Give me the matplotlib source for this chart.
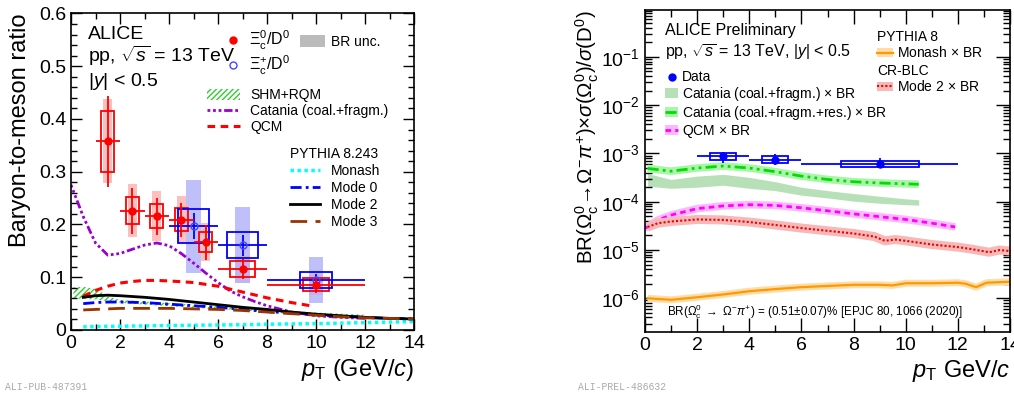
import numpy as np
import matplotlib
matplotlib.use('Agg')
import matplotlib.pyplot as plt
from matplotlib.ticker import MultipleLocator, FixedLocator, NullFormatter, FuncFormatter, LogFormatterSciNotation
from matplotlib.lines import Line2D
from matplotlib.patches import Patch

plt.rcParams['font.family'] = ['Liberation Sans', 'DejaVu Sans']
plt.rcParams['mathtext.fontset'] = 'custom'
plt.rcParams['mathtext.rm'] = 'Liberation Sans'
plt.rcParams['mathtext.it'] = 'Liberation Sans:italic'
plt.rcParams['mathtext.bf'] = 'Liberation Sans:bold'
plt.rcParams['mathtext.sf'] = 'Liberation Sans'
plt.rcParams['hatch.linewidth'] = 1.0

# ---------------- Left panel data ----------------
xi0_x = np.array([1.5, 2.5, 3.5, 4.5, 5.5, 7.0, 10.0])
xi0_xlo = np.array([1, 2, 3, 4, 5, 6, 8])
xi0_xhi = np.array([2, 3, 4, 5, 6, 8, 12])
xi0_y = np.array([0.358, 0.226, 0.216, 0.209, 0.166, 0.115, 0.086])
xi0_stat = np.array([0.086, 0.044, 0.035, 0.032, 0.033, 0.019, 0.016])
xi0_syst = np.array([0.058, 0.026, 0.023, 0.022, 0.019, 0.015, 0.013])
xi0_br = np.array([0.079, 0.050, 0.048, 0.045, 0.036, 0.025, 0.019])

xip_x = np.array([5.0, 7.0, 10.0])
xip_xlo = np.array([4, 6, 8])
xip_xhi = np.array([6, 8, 12])
xip_y = np.array([0.197, 0.161, 0.095])
xip_stat = np.array([0.025, 0.020, 0.012])
xip_syst = np.array([0.033, 0.024, 0.015])
xip_br = np.array([0.088, 0.072, 0.043])

shm_x = [0.1, 0.5, 1.0, 1.3, 1.6, 2, 3, 4, 5, 6, 7, 8, 9, 10, 11, 12]
shm_lo = [0.060, 0.059, 0.058, 0.056, 0.054, 0.052, 0.048, 0.045, 0.042, 0.040, 0.037, 0.034, 0.031, 0.029, 0.027, 0.025]
shm_hi = [0.081, 0.082, 0.078, 0.070, 0.062, 0.057, 0.054, 0.051, 0.048, 0.045, 0.042, 0.039, 0.036, 0.033, 0.031, 0.029]

catania_x = [0, 0.5, 1, 1.5, 2, 2.5, 3, 3.5, 4, 4.5, 5, 5.5, 6, 6.5, 7, 7.5, 8, 9, 10, 11, 12]
catania_y = [0.275, 0.215, 0.165, 0.142, 0.145, 0.153, 0.161, 0.165, 0.160, 0.145, 0.127, 0.108,
             0.090, 0.074, 0.063, 0.054, 0.046, 0.034, 0.027, 0.024, 0.022]

qcm_x = [0.5, 1, 1.5, 2, 2.5, 3, 3.5, 4, 5, 6, 7, 8, 9, 9.9]
qcm_y = [0.064, 0.075, 0.083, 0.089, 0.092, 0.094, 0.094, 0.093, 0.090, 0.083, 0.072, 0.061, 0.052, 0.045]

py_x = [0.5, 1, 1.5, 2, 3, 4, 5, 6, 7, 8, 9, 10, 11, 12, 13, 14]
monash_y = [0.006, 0.0065, 0.007, 0.0072, 0.0078, 0.0085, 0.009, 0.0095, 0.010, 0.011, 0.0115, 0.012, 0.013, 0.014, 0.015, 0.016]
mode0_y = [0.050, 0.052, 0.053, 0.053, 0.052, 0.049, 0.046, 0.043, 0.039, 0.035, 0.032, 0.029, 0.026, 0.024, 0.022, 0.021]
mode2_y = [0.062, 0.065, 0.066, 0.065, 0.062, 0.058, 0.053, 0.048, 0.043, 0.039, 0.034, 0.030, 0.027, 0.024, 0.022, 0.021]
mode3_y = [0.038, 0.039, 0.040, 0.041, 0.041, 0.041, 0.040, 0.039, 0.037, 0.034, 0.031, 0.028, 0.025, 0.023, 0.022, 0.021]

left_yticks = [0, 0.1, 0.2, 0.3, 0.4, 0.5, 0.6]
left_xticks = [0, 2, 4, 6, 8, 10, 12, 14]

# ---------------- Right panel data ----------------
om_x = np.array([3.0, 5.0, 9.0])
om_xlo = np.array([2, 4, 6])
om_xhi = np.array([4, 6, 12])
om_y = np.array([8.8e-4, 7.5e-4, 6.2e-4])
om_stat_lo = np.array([6.5e-4, 5.7e-4, 4.9e-4])
om_stat_hi = np.array([1.08e-3, 9.7e-4, 7.9e-4])
om_syst_lo = np.array([7.3e-4, 6.5e-4, 5.3e-4])
om_syst_hi = np.array([1.0e-3, 8.9e-4, 7.0e-4])

cat_x = [0.1, 1, 2, 3, 4, 5, 6, 7, 8, 9, 10, 10.5]
cat_hi = [3.85e-4, 2.9e-4, 3.4e-4, 3.7e-4, 3.2e-4, 2.6e-4, 2.0e-4, 1.7e-4, 1.48e-4, 1.3e-4, 1.15e-4, 1.1e-4]
cat_lo = [2.1e-4, 1.9e-4, 2.0e-4, 2.2e-4, 1.9e-4, 1.7e-4, 1.37e-4, 1.2e-4, 1.03e-4, 9.3e-5, 8.7e-5, 8.5e-5]

catres_x = [0.1, 1, 2, 3, 4, 5, 6, 7, 8, 9, 10, 10.5]
catres_y = [4.9e-4, 4.3e-4, 5.0e-4, 5.5e-4, 5.0e-4, 4.2e-4, 3.4e-4, 2.9e-4, 2.6e-4, 2.45e-4, 2.35e-4, 2.3e-4]

qcmbr_x = [0, 0.5, 1, 2, 3, 4, 5, 6, 7, 8, 9, 10, 11, 11.9]
qcmbr_y = [2.8e-5, 4.2e-5, 5.3e-5, 7.2e-5, 8.2e-5, 8.7e-5, 8.4e-5, 7.5e-5, 6.5e-5, 5.6e-5, 4.9e-5, 4.3e-5, 3.6e-5, 3.0e-5]

m2br_x = [0.1, 0.5, 1, 2, 3, 4, 5, 6, 7, 8, 8.8, 9.2, 9.6, 10, 11, 12, 12.5, 13.2, 13.6, 14]
m2br_y = [3.0e-5, 3.6e-5, 3.9e-5, 4.3e-5, 4.2e-5, 3.8e-5, 3.3e-5, 2.85e-5, 2.5e-5, 2.2e-5, 1.9e-5,
          1.55e-5, 1.65e-5, 1.55e-5, 1.3e-5, 1.15e-5, 1.05e-5, 9.0e-6, 1.0e-5, 9.5e-6]

mon_x = [0.1, 1, 2, 3, 4, 5, 6, 7, 8, 9, 9.5, 10, 11, 12, 12.3, 12.7, 13.1, 14]
mon_y = [1.0e-6, 0.93e-6, 1.05e-6, 1.2e-6, 1.4e-6, 1.55e-6, 1.7e-6, 1.8e-6, 1.9e-6, 1.9e-6, 1.85e-6,
         2.05e-6, 2.05e-6, 2.1e-6, 2.0e-6, 1.7e-6, 2.1e-6, 2.2e-6]

right_xticks = [0, 2, 4, 6, 8, 10, 12, 14]
right_yticks = [1e-6, 1e-5, 1e-4, 1e-3, 1e-2, 1e-1]
right_ylim = (2.03e-7, 0.94)

# ---------------- styles ----------------
RED = '#ff0000'
BLUE = '#0000ff'
RED_BAND = '#ffb4b4'
BLUE_BAND = '#b4b4fa'
XI0_BOX_HW = np.array([0.26, 0.26, 0.26, 0.26, 0.26, 0.5, 0.52])
XI0_BAND_HW = np.array([0.18, 0.18, 0.18, 0.18, 0.18, 0.3, 0.3])
XIP_BOX_HW = 0.65
XIP_BAND_HW = 0.3
OM_BOX_HW = np.array([0.5, 0.5, 1.5])
CAT_LS = (0, (1, 1, 1, 1, 1, 1, 3, 1))

fig = plt.figure(figsize=(10.14, 3.99), dpi=100)
W, H = 1014.0, 399.0
ax1 = fig.add_axes([71 / W, 1 - 330 / H, 343 / W, 316.5 / H])
ax2 = fig.add_axes([645 / W, 1 - 331.7 / H, 365 / W, 321.7 / H])

# ================= Left panel =================
ax = ax1
ax.fill_between(shm_x, shm_lo, shm_hi, facecolor='none', edgecolor='#33cc33', hatch='//////', linewidth=0)
ax.plot(catania_x, catania_y, color='#9900cc', lw=2.0, ls=CAT_LS)
ax.plot(qcm_x, qcm_y, color=RED, lw=2.2, ls=(0, (2.5, 1.8)))
ax.plot(py_x, monash_y, color='#00ffff', lw=2.5, ls=(0, (1, 1)))
ax.plot(py_x, mode0_y, color=BLUE, lw=2.0, ls=(0, (4, 1.5, 1, 1.5)))
ax.plot(py_x, mode2_y, color='black', lw=2.0)
ax.plot(py_x, mode3_y, color='#993300', lw=2.0, ls=(0, (6, 3)))

# BR uncertainty bands
ax.bar(xi0_x, 2 * xi0_br, bottom=xi0_y - xi0_br, width=2 * XI0_BAND_HW, color=RED_BAND, alpha=0.85, lw=0)
ax.bar(xip_x, 2 * xip_br, bottom=xip_y - xip_br, width=2 * XIP_BAND_HW, color=BLUE_BAND, alpha=0.85, lw=0)
# systematic boxes
ax.bar(xi0_x, 2 * xi0_syst, bottom=xi0_y - xi0_syst, width=2 * XI0_BOX_HW, fill=False, edgecolor=RED, lw=1.3)
ax.bar(xip_x, 2 * xip_syst, bottom=xip_y - xip_syst, width=2 * XIP_BOX_HW, fill=False, edgecolor=BLUE, lw=1.3)
# stat errors
ax.errorbar(xip_x, xip_y, xerr=[xip_x - xip_xlo, xip_xhi - xip_x], yerr=xip_stat, fmt='o', ms=5,
            mfc='none', mec='#4444ff', color=BLUE, elinewidth=1.3, capsize=0)
ax.errorbar(xi0_x, xi0_y, xerr=[xi0_x - xi0_xlo, xi0_xhi - xi0_x], yerr=xi0_stat, fmt='o', ms=5,
            color=RED, elinewidth=1.3, capsize=0)

ax.set_xlim(0, 14)
ax.set_ylim(0, 0.6)
ax.set_xticks(left_xticks)
ax.set_yticks(left_yticks)
ax.yaxis.set_major_formatter(FuncFormatter(lambda v, p: '%g' % v))
ax.xaxis.set_minor_locator(MultipleLocator(1))
ax.yaxis.set_minor_locator(MultipleLocator(0.02))
ax.tick_params(which='both', direction='in', top=True, right=True, labelsize=14, width=1.0)
ax.tick_params(which='major', length=8)
ax.tick_params(which='minor', length=4)
for s in ax.spines.values():
    s.set_linewidth(1.2)
ax.set_ylabel('Baryon-to-meson ratio', fontsize=17, loc='top', labelpad=6)
ax.set_xlabel(r'$p_{\rm T}$ (GeV/$c$)', fontsize=17, loc='right', labelpad=4)

ax.text(0.05, 0.918, 'ALICE', transform=ax.transAxes, fontsize=14)
ax.text(0.05, 0.848, r'pp, $\sqrt{s}$ = 13 TeV', transform=ax.transAxes, fontsize=14)
ax.text(0.05, 0.772, r'|$y$| < 0.5', transform=ax.transAxes, fontsize=14)

legA = ax.legend([Line2D([], [], marker='o', color=RED, ls='none', ms=5),
                  Line2D([], [], marker='o', mfc='none', mec='#4444ff', ls='none', ms=5)],
                 [r'$\Xi_{\rm c}^{0}$/D$^{0}$', r'$\Xi_{\rm c}^{+}$/D$^{0}$'],
                 loc='upper left', bbox_to_anchor=(0.45, 0.952), frameon=False, fontsize=11.5,
                 handlelength=0.9, handletextpad=0.55, labelspacing=0.1, borderpad=0, borderaxespad=0)
ax.add_artist(legA)
legB = ax.legend([Patch(facecolor='#bbbbbb', lw=0)], ['BR unc.'], loc='upper left',
                 bbox_to_anchor=(0.668, 0.932), frameon=False, fontsize=10, handlelength=1.8,
                 handleheight=0.93, handletextpad=0.43, borderpad=0, borderaxespad=0)
ax.add_artist(legB)
legC = ax.legend([Patch(facecolor='none', edgecolor='#33cc33', hatch='//////', lw=0),
                  Line2D([], [], color='#9900cc', lw=2.0, ls=CAT_LS),
                  Line2D([], [], color=RED, lw=2.2, ls=(0, (2.5, 1.8)))],
                 ['SHM+RQM', 'Catania (coal.+fragm.)', 'QCM'], loc='upper left',
                 bbox_to_anchor=(0.3965, 0.764), frameon=False, fontsize=10, handlelength=2.37,
                 handleheight=0.8, handletextpad=0.72, labelspacing=0.13, borderpad=0, borderaxespad=0)
ax.add_artist(legC)
legD = ax.legend([Line2D([], [], color='#00ffff', lw=2.5, ls=(0, (1, 1))),
                  Line2D([], [], color=BLUE, lw=2.0, ls=(0, (4, 1.5, 1, 1.5))),
                  Line2D([], [], color='black', lw=2.0),
                  Line2D([], [], color='#993300', lw=2.0, ls=(0, (6, 3)))],
                 ['Monash', 'Mode 0', 'Mode 2', 'Mode 3'], title='PYTHIA 8.243', title_fontsize=10,
                 alignment='left', loc='upper left', bbox_to_anchor=(0.638, 0.578), frameon=False,
                 fontsize=10, handlelength=2.16, handletextpad=0.8, labelspacing=0.22, borderpad=0,
                 borderaxespad=0)

# ================= Right panel =================
ax = ax2
ax.set_yscale('log')
ax.fill_between(cat_x, cat_lo, cat_hi, color='#b8e0b8', lw=0)
ax.plot(catres_x, catres_y, color='#aaf5aa', lw=5.5, solid_capstyle='butt')
ax.plot(catres_x, catres_y, color='#00dd00', lw=2.0, ls=(0, (4, 1.5, 1, 1.5, 1, 1.5)))
ax.plot(qcmbr_x, qcmbr_y, color='#ffb8ff', lw=5.5, solid_capstyle='butt')
ax.plot(qcmbr_x, qcmbr_y, color='#ff00ff', lw=2.0, ls=(0, (2, 1.5)))
ax.plot(m2br_x, m2br_y, color='#f7b8b8', lw=6.5, solid_capstyle='butt')
ax.plot(m2br_x, m2br_y, color='#ee0000', lw=1.5, ls=(0, (1, 1)))
ax.plot(mon_x, mon_y, color='#ffdca8', lw=5, solid_capstyle='butt')
ax.plot(mon_x, mon_y, color='#ff9900', lw=1.6)

ax.bar(om_x, om_syst_hi - om_syst_lo, bottom=om_syst_lo, width=2 * OM_BOX_HW, fill=False,
       edgecolor=BLUE, lw=1.3)
ax.errorbar(om_x, om_y, xerr=[om_x - om_xlo, om_xhi - om_x], yerr=[om_y - om_stat_lo, om_stat_hi - om_y],
            fmt='o', ms=5, color=BLUE, elinewidth=1.3, capsize=0)

ax.set_xlim(0, 14)
ax.set_ylim(*right_ylim)
ax.set_xticks(right_xticks)
ax.xaxis.set_minor_locator(MultipleLocator(1))
ax.yaxis.set_major_locator(FixedLocator(right_yticks))
ax.yaxis.set_major_formatter(LogFormatterSciNotation())
minor_y = [k * 10.0 ** e for e in range(-7, 0) for k in range(2, 10)
           if right_ylim[0] <= k * 10.0 ** e <= right_ylim[1]]
ax.yaxis.set_minor_locator(FixedLocator(minor_y))
ax.yaxis.set_minor_formatter(NullFormatter())
ax.tick_params(which='both', direction='in', top=True, right=True, labelsize=14, width=1.0)
ax.tick_params(which='major', length=10)
ax.tick_params(which='minor', length=5)
for s in ax.spines.values():
    s.set_linewidth(1.2)
ax.set_ylabel(r'BR($\Omega_{\rm c}^{0}\!\rightarrow\!\Omega^{-}\pi^{+}$)$\times\sigma(\Omega_{\rm c}^{0})/\sigma(\mathrm{D}^{0})$',
              fontsize=14.8, loc='top', labelpad=0)
ax.set_xlabel(r'$p_{\rm T}$ GeV/$c$', fontsize=17, loc='right', labelpad=3)

ax.text(0.055, 0.922, 'ALICE Preliminary', transform=ax.transAxes, fontsize=11.5)
ax.text(0.055, 0.854, r'pp, $\sqrt{s}$ = 13 TeV, |$y$| < 0.5', transform=ax.transAxes, fontsize=11.5)
ax.text(0.06, 0.062, r'BR($\Omega_{\rm c}^{0}$ $\rightarrow$ $\Omega^{-}\pi^{+}$) = (0.51$\pm$0.07)% [EPJC 80, 1066 (2020)]',
        transform=ax.transAxes, fontsize=8.4, va='center')

legR1 = ax.legend([Line2D([], [], marker='o', color=BLUE, ls='none', ms=5),
                   Patch(facecolor='#b8e0b8', lw=0),
                   (Patch(facecolor='#aaf5aa', lw=0), Line2D([], [], color='#00dd00', lw=2.0, ls=(0, (4, 1.5, 1, 1.5, 1, 1.5)))),
                   (Patch(facecolor='#ffb8ff', lw=0), Line2D([], [], color='#ff00ff', lw=2.0, ls=(0, (2, 1.5))))],
                  ['Data', r'Catania (coal.+fragm.) $\times$ BR', r'Catania (coal.+fragm.+res.) $\times$ BR',
                   r'QCM $\times$ BR'],
                  loc='upper left', bbox_to_anchor=(0.0548, 0.812), frameon=False, fontsize=10,
                  handlelength=0.94, handleheight=0.72, handletextpad=0.3, labelspacing=0.05,
                  borderpad=0, borderaxespad=0)
ax.add_artist(legR1)
legR2 = ax.legend([(Patch(facecolor='#ffdca8', lw=0), Line2D([], [], color='#ff9900', lw=1.6))],
                  [r'Monash $\times$ BR'], title='PYTHIA 8', title_fontsize=10, alignment='left',
                  loc='upper left', bbox_to_anchor=(0.636, 0.938), frameon=False, fontsize=10,
                  handlelength=1.15, handleheight=0.6, handletextpad=0.3, labelspacing=0.1,
                  borderpad=0, borderaxespad=0)
ax.add_artist(legR2)
legR3 = ax.legend([(Patch(facecolor='#f7b8b8', lw=0), Line2D([], [], color='#ee0000', lw=1.5, ls=(0, (1, 1))))],
                  [r'Mode 2 $\times$ BR'], title='CR-BLC', title_fontsize=10, alignment='left',
                  loc='upper left', bbox_to_anchor=(0.636, 0.833), frameon=False, fontsize=10,
                  handlelength=1.15, handleheight=0.6, handletextpad=0.3, labelspacing=0.1,
                  borderpad=0, borderaxespad=0)

fig.text(5 / W, 1 - 387 / H, 'ALI-PUB-487391', fontsize=7, family='Liberation Mono', color='#aaaaaa', va='center')
fig.text(578 / W, 1 - 387 / H, 'ALI-PREL-486632', fontsize=7, family='Liberation Mono', color='#aaaaaa', va='center')

fig.savefig('out.png', dpi=100)
